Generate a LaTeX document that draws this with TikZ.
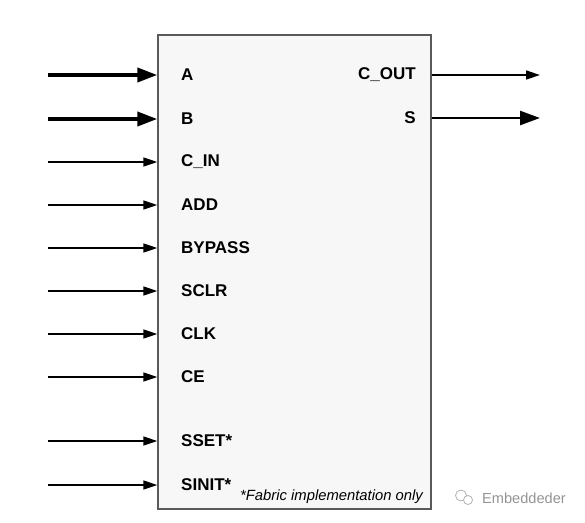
\documentclass[tikz,border=0pt]{standalone}
\usepackage{fontspec}
\setmainfont{Liberation Sans}
\usetikzlibrary{arrows.meta}
\begin{document}
\begin{tikzpicture}[x=1pt,y=-1pt,
  blk/.style={draw=black!65,line width=1.4pt,fill=black!3,minimum width=273pt,minimum height=474pt,inner sep=0pt},
  inlbl/.style={anchor=west,font=\fontsize{17}{18}\selectfont\bfseries,inner sep=0pt},
  outlbl/.style={anchor=east,font=\fontsize{17}{18}\selectfont\bfseries,inner sep=0pt},
  thinarr/.style={line width=1.4pt,-{Triangle[length=14pt,width=9pt]}},
  thickarr/.style={line width=3.8pt,-{Triangle[length=20pt,width=14pt]}},
  wmicon/.style={draw=black!30,line width=0.8pt},
]
\useasboundingbox (0,0) rectangle (585,522);
\node[blk] (box) at (294.5,272) {};
% input labels
\node[inlbl] (lA) at (181,75) {A};
\node[inlbl] (lB) at (181,119) {B};
\node[inlbl] (lCIN) at (181,162) {C\_IN};
\node[inlbl] (lADD) at (181,205) {ADD};
\node[inlbl] (lBYP) at (181,248) {BYPASS};
\node[inlbl] (lSCLR) at (181,291) {SCLR};
\node[inlbl] (lCLK) at (181,334) {CLK};
\node[inlbl] (lCE) at (181,377) {CE};
\node[inlbl] (lSSET) at (181,441) {SSET*};
\node[inlbl] (lSINIT) at (181,485) {SINIT*};
% output labels
\node[outlbl] (lCOUT) at (416,75) {C\_OUT};
\node[outlbl] (lS) at (416,118) {S};
% footnote
\node[anchor=east,font=\fontsize{14.8}{16}\selectfont\itshape,inner sep=0pt] (foot) at (423,497) {*Fabric implementation only};
% watermark
\node[anchor=west,font=\fontsize{14.6}{16}\selectfont,text=black!42,inner sep=0pt] (wm) at (482,498) {Embeddeder};
\draw[wmicon] (461,495.5) circle[radius=5.5pt];
\draw[wmicon,fill=white] (468,500) circle[radius=4.5pt];
% start/end coordinates
\coordinate (sA) at (48,75);
\coordinate (sB) at (48,119);
\coordinate (sCIN) at (48,162);
\coordinate (sADD) at (48,205);
\coordinate (sBYP) at (48,248);
\coordinate (sSCLR) at (48,291);
\coordinate (sCLK) at (48,334);
\coordinate (sCE) at (48,377);
\coordinate (sSSET) at (48,441);
\coordinate (sSINIT) at (48,485);
\coordinate (eCOUT) at (540,75);
\coordinate (eS) at (540,118);
% arrows
\draw[thickarr] (sA) -- (box.west |- sA);
\draw[thickarr] (sB) -- (box.west |- sB);
\foreach \n in {CIN,ADD,BYP,SCLR,CLK,CE,SSET,SINIT}
  \draw[thinarr] (s\n) -- (box.west |- s\n);
\draw[thinarr] (box.east |- eCOUT) -- (eCOUT);
\draw[thickarr,line width=2.6pt] (box.east |- eS) -- (eS);
\end{tikzpicture}
\end{document}
